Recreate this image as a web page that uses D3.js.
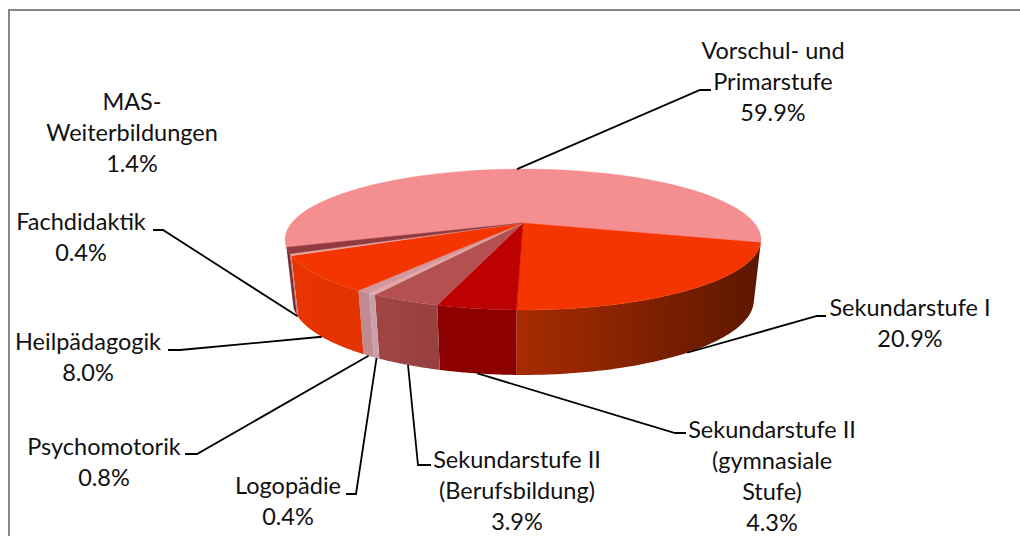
<!DOCTYPE html>
<html>
<head>
    <meta charset="utf-8">
    <title>Studierende nach Studiengang</title>
    <script src="https://d3js.org/d3.v7.min.js"></script>
    <style>
        body { margin: 0; background: white; }
        svg { display: block; }
        text { font-family: Lato, sans-serif; font-size: 23.5px; fill: #111; }
    </style>
</head>
<body>
    <svg id="graph" width="1020" height="536"></svg>
    <script>
        // values in percent, clockwise
        const categories = ["Vorschul- und Primarstufe", "Sekundarstufe I", "Sekundarstufe II (gymnasiale Stufe)",
            "Sekundarstufe II (Berufsbildung)", "Logopädie", "Psychomotorik", "Heilpädagogik", "Fachdidaktik", "MAS-Weiterbildungen"];
        const values = [59.9, 20.9, 4.3, 3.9, 0.4, 0.8, 8.0, 0.4, 1.4];
        const topColors = ["#f48e90", "#f53500", "#bd0000", "#b55050", "#e3a8ac", "#d3979c", "#f53500", "#eba5a5", "#933a40"];
        const sideFrom = [null, "#a82c00", "#8c0000", "#a04545", "#c9a0a8", "#bf8a92", "#e83400", "#c08080", "#7d2e34"];
        const sideTo = [null, "#5c1700", "#8c0000", "#964040", "#c9a0a8", "#bf8a92", "#e23300", "#c08080", "#7d2e34"];
        const labelLines = [["Vorschul- und", "Primarstufe", "59.9%"], ["Sekundarstufe I", "20.9%"],
            ["Sekundarstufe II", "(gymnasiale", "Stufe)", "4.3%"], ["Sekundarstufe II", "(Berufsbildung)", "3.9%"],
            ["Logopädie", "0.4%"], ["Psychomotorik", "0.8%"], ["Heilpädagogik", "8.0%"], ["Fachdidaktik", "0.4%"],
            ["MAS-", "Weiterbildungen", "1.4%"]];

        // where each label sits: centre x, first baseline, line step
        const labelX = [773, 910, 772, 517, 288, 104, 88, 81, 132];
        const labelY = [59, 316, 438, 468, 494, 455, 350, 230, 110];
        const lineStep = 31;
        // leader elbows, MAS has no leader
        const elbowA = [[700, 90], [817, 316], [675, 433], [418, 465], [356, 494], [197, 454], [180, 350], [163, 230], null];
        const elbowB = [[711, 90], [826, 316], [686, 433], [431, 465], [346, 494], [185, 454], [168, 350], [153, 230], null];

        const svg = d3.select("svg#graph");

        // outer frame, only top and left are inside the picture
        svg.append("path")
            .attr("d", "M9,536V10H1020")
            .attr("fill", "none")
            .attr("stroke", "#868686")
            .attr("stroke-width", 2);

        // the pie is a tilted circle, so use a perspective projection of the unit circle
        const cx = 523, apexY = 223, R = 231.4, S = 66.6, k = -0.234;
        const depth = 65, depthShrink = 0.063, bottomScale = 0.97, frontY = 310;

        function rimTop(a) {
            const u = Math.sin(a), v = -Math.cos(a), w = 1 + k * v;
            return [cx + R * u / w, apexY + S * v / w];
        }
        function rimBottom(a) {
            const p = rimTop(a);
            return [cx + (p[0] - cx) * bottomScale, p[1] + depth - (frontY - p[1]) * depthShrink];
        }

        const start = 106 * Math.PI / 180 - 2 * Math.PI * values[0] / 100;
        const pie = d3.pie().sort(null).startAngle(start).endAngle(start + 2 * Math.PI);
        const arcs = pie(values);
        const line = d3.line();

        function arcPoints(d, rim) {
            return d3.range(0, 61).map(i => rim(d.startAngle + (d.endAngle - d.startAngle) * i / 60));
        }

        const defs = svg.append("defs");
        arcs.forEach((d, i) => {
            if (!sideFrom[i]) return;
            const g = defs.append("linearGradient").attr("id", "side" + i);
            g.append("stop").attr("offset", "0%").attr("stop-color", sideFrom[i]);
            g.append("stop").attr("offset", "100%").attr("stop-color", sideTo[i]);
        });

        // walls first, then the top
        svg.append("g").selectAll("path")
            .data(arcs.filter(d => sideFrom[d.index]))
            .join("path")
            .attr("d", d => line(arcPoints(d, rimTop).concat(arcPoints(d, rimBottom).reverse())) + "Z")
            .attr("fill", d => "url(#side" + d.index + ")");

        svg.append("g").selectAll("path")
            .data(arcs)
            .join("path")
            .attr("d", d => line([[cx, apexY]].concat(arcPoints(d, rimTop))) + "Z")
            .attr("fill", d => topColors[d.index])
            .attr("stroke", d => topColors[d.index])
            .attr("stroke-width", 0.4);

        // leaders start on the rim at the middle of the slice
        function leaderStart(d) {
            const mid = (d.startAngle + d.endAngle) / 2;
            return d.index === 0 ? rimTop(mid) : rimBottom(mid);
        }

        svg.append("g").selectAll("path")
            .data(arcs.filter(d => elbowA[d.index]))
            .join("path")
            .attr("d", d => line([leaderStart(d), elbowA[d.index], elbowB[d.index]]))
            .attr("fill", "none")
            .attr("stroke", "black")
            .attr("stroke-width", 1.8);

        svg.append("g").selectAll("text")
            .data(categories)
            .join("text")
            .attr("text-anchor", "middle")
            .attr("x", (d, i) => labelX[i])
            .attr("y", (d, i) => labelY[i])
            .each(function(d, i) {
                d3.select(this).selectAll("tspan")
                    .data(labelLines[i])
                    .join("tspan")
                    .attr("x", labelX[i])
                    .attr("y", (t, j) => labelY[i] + j * lineStep)
                    .text(t => t);
            });
    </script>
</body>
</html>
